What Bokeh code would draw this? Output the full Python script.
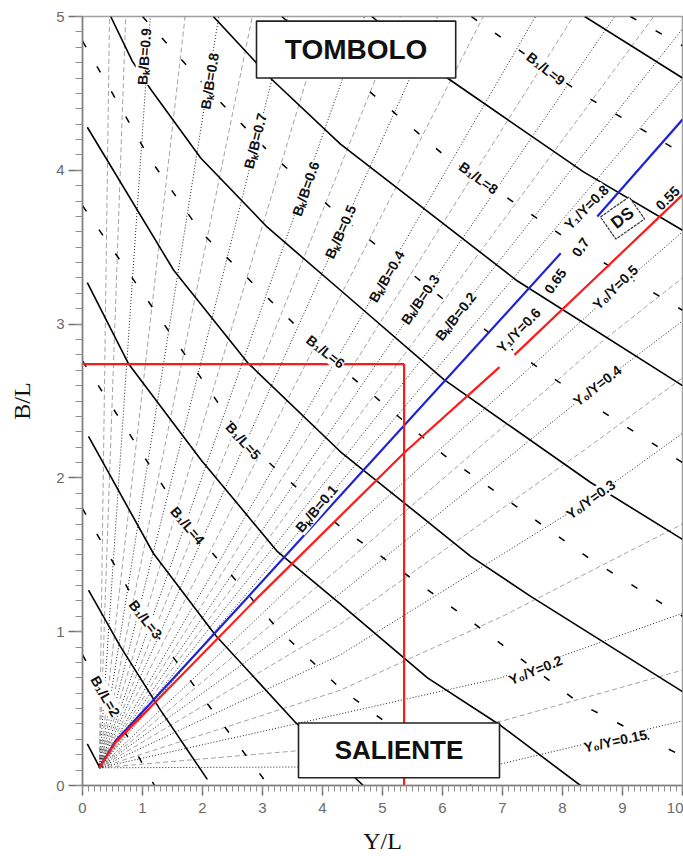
import math
from bokeh.plotting import figure
from bokeh.models import Label, SingleIntervalTicker
from bokeh.embed import file_html
from bokeh.resources import INLINE

# ---------------- data ----------------
focus_x, focus_y = 0.28, 0.115

# solid black curves
solid_x = [
    [0.08, 0.29],
    [0.10, 0.63, 1.30, 2.08],
    [0.10, 1.18, 2.22, 3.55, 4.68],
    [0.08, 0.77, 1.97, 3.25, 4.30, 5.75, 6.97, 8.30],
    [0.08, 1.52, 2.75, 4.30, 6.47, 7.47, 10.0],
    [0.47, 0.83, 1.13, 1.97, 3.08, 4.30, 6.02, 8.47, 10.0],
    [2.18, 2.92, 3.13, 4.30, 7.25, 10.0],
    [4.82, 6.08, 7.12, 8.35, 10.0],
    [8.37, 10.0],
]
solid_y = [
    [0.27, 0.115],
    [1.27, 0.905, 0.49, 0.04],
    [2.27, 1.51, 0.975, 0.41, 0.0],
    [3.27, 2.74, 2.12, 1.52, 1.18, 0.70, 0.39, 0.0],
    [4.28, 3.35, 2.75, 2.17, 1.49, 1.23, 0.61],
    [5.0, 4.71, 4.53, 4.08, 3.63, 3.22, 2.64, 1.97, 1.60],
    [5.0, 4.69, 4.60, 4.17, 3.28, 2.60],
    [5.0, 4.60, 4.32, 3.99, 3.61],
    [5.0, 4.60],
]

# B1/L curves (sparse dashes)
b1l_x = [
    [0.0, 0.38, 1.20],
    [0.0, 1.05, 1.97, 3.10],
    [0.0, 1.75, 3.25, 4.30, 6.47],
    [0.0, 2.68, 4.30, 6.47, 8.30, 10.0],
    [0.0, 0.47, 1.13, 1.97, 4.05, 6.02, 8.47, 10.0],
    [1.00, 2.18, 3.13, 4.30, 6.02, 7.25, 8.47, 10.0],
    [3.32, 6.08, 7.12, 8.35, 10.0],
    [6.48, 7.72, 8.35, 10.0],
    [9.13, 10.0],
]
b1l_y = [
    [0.85, 0.58, 0.0],
    [1.80, 1.08, 0.59, 0.0],
    [2.76, 1.70, 1.02, 0.63, 0.0],
    [3.77, 2.25, 1.68, 1.07, 0.53, 0.19],
    [4.84, 4.52, 4.07, 3.60, 2.80, 2.15, 1.47, 1.10],
    [5.0, 4.49, 4.11, 3.70, 3.16, 2.81, 2.48, 2.10],
    [5.0, 4.08, 3.81, 3.48, 3.09],
    [5.0, 4.66, 4.49, 4.11],
    [5.0, 4.81],
]
b1l_label_vals = ["2", "3", "4", "5", "6", "8", "9"]
b1l_label_x = [0.38, 1.05, 1.75, 2.68, 4.05, 6.60, 7.72]
b1l_label_y = [0.58, 1.08, 1.69, 2.24, 2.82, 3.95, 4.66]

# Bk/B radial dotted lines (end points, start at the focus)
bkb_vals = ["0.9", "0.8", "0.7", "0.6", "0.5", "0.4", "0.3", "0.2", "0.1"]
bkb_end_x = [1.13, 2.27, 3.42, 4.70, 5.92, 7.55, 8.87, 10.0, 10.0]
bkb_end_y = [5.0, 5.0, 5.0, 5.0, 5.0, 5.0, 5.0, 4.92, 4.60]
bkb_label_x = [1.03, 2.12, 2.88, 3.72, 4.30, 5.07, 5.63, 6.22, 3.90]
bkb_label_y = [4.74, 4.58, 4.19, 3.88, 3.60, 3.31, 3.16, 3.05, 1.80]

# intermediate grey radial dashed lines
mid_end_x = [0.45, 0.72, 1.71, 2.83, 4.05, 5.30, 6.68, 8.18, 9.52]
mid_end_y = [5.0, 5.0, 5.0, 5.0, 5.0, 5.0, 5.0, 5.0, 5.0]

# Y0/Y dotted curves
y0y_vals = ["0.15", "0.2", "0.3", "0.4", "0.5"]
y0y_x = [
    [0.28, 3.50, 6.97, 10.0],
    [0.28, 3.55, 6.97, 10.0],
    [0.28, 4.30, 8.47, 10.0],
    [0.28, 4.30, 8.58, 10.0],
    [0.28, 4.30, 8.88, 10.0],
]
y0y_y = [
    [0.115, 0.12, 0.14, 0.42],
    [0.115, 0.40, 0.70, 1.12],
    [0.115, 0.85, 1.86, 2.29],
    [0.115, 1.25, 2.60, 3.02],
    [0.115, 1.60, 3.22, 3.60],
]
y0y_label_x = [8.88, 7.55, 8.47, 8.58, 8.88]
y0y_label_y = [0.29, 0.75, 1.86, 2.60, 3.24]

# intermediate grey Y curves
ymid_x = [
    [0.28, 4.00, 7.00, 10.0],
    [0.28, 4.30, 7.00, 10.0],
    [0.28, 4.30, 8.50, 10.0],
    [0.28, 4.30, 8.70, 10.0],
]
ymid_y = [
    [0.115, 0.24, 0.42, 0.75],
    [0.115, 0.62, 1.10, 1.70],
    [0.115, 1.05, 2.22, 2.65],
    [0.115, 1.42, 2.90, 3.30],
]

# Y1/Y labels
y1y_texts = ["Y\u2081/Y=0.6", "0.65", "0.7", "Y\u2081/Y=0.8", "0.55"]
y1y_label_x = [7.27, 7.88, 8.30, 8.40, 9.75]
y1y_label_y = [2.96, 3.28, 3.50, 3.76, 3.82]

# blue and red limit lines
blue_x = [[0.28, 0.55, 1.11, 2.72, 5.36, 7.97], [8.58, 10.0]]
blue_y = [[0.115, 0.29, 0.525, 1.21, 2.34, 3.46], [3.70, 4.33]]
red_x = [[0.28, 0.55, 1.11, 2.89, 5.38, 6.95], [7.20, 8.52, 10.0]]
red_y = [[0.115, 0.28, 0.50, 1.21, 2.17, 2.72], [2.80, 3.29, 3.84]]

# design point (red L)
design_x = 5.36
design_y = 2.74

# region boxes
tombolo_box = (2.90, 6.22, 4.60, 4.97)
saliente_box = (3.60, 6.95, 0.05, 0.406)
ds_x, ds_y = 9.00, 3.69

# ---------------- figure ----------------
p = figure(width=683, height=856, x_range=(0, 10), y_range=(0, 5),
           output_backend="svg", toolbar_location=None,
           min_border_left=82, min_border_right=1, min_border_top=16,
           min_border_bottom=68)
p.grid.visible = False
p.outline_line_color = "#a0a0a0"
p.outline_line_width = 1.5
p.background_fill_color = "white"

for ax in (p.xaxis[0], p.yaxis[0]):
    ax.ticker = SingleIntervalTicker(interval=1, num_minor_ticks=10)
    ax.axis_line_color = "#808080"
    ax.axis_line_width = 1.5
    ax.major_tick_line_color = "#707070"
    ax.minor_tick_line_color = "#909090"
    ax.major_tick_line_width = 1.5
    ax.major_tick_in = 0
    ax.minor_tick_in = 0
    ax.major_label_text_font = "Liberation Sans"
    ax.major_label_text_font_size = "15px"
    ax.major_label_text_color = "#6a6a6a"
    ax.axis_label_text_font = "Liberation Serif"
    ax.axis_label_text_font_size = "24px"
    ax.axis_label_text_font_style = "normal"
    ax.axis_label_text_color = "#111111"

p.xaxis.axis_label = "Y/L"
p.yaxis.axis_label = "B/L"
p.xaxis.major_tick_out = 10
p.xaxis.minor_tick_out = 6
p.xaxis.major_label_standoff = 7
p.xaxis.axis_label_standoff = 12
p.yaxis.major_tick_out = 14
p.yaxis.minor_tick_out = 7
p.yaxis.major_label_standoff = 4
p.yaxis.axis_label_standoff = 18

# grey intermediate lines
p.multi_line([[focus_x, ex] for ex in mid_end_x],
             [[focus_y, ey] for ey in mid_end_y],
             line_color="#8a8a8a", line_width=0.8, line_dash="5 3")
p.multi_line(ymid_x, ymid_y, line_color="#8a8a8a", line_width=0.8, line_dash="5 3")

# dotted families
p.multi_line([[focus_x, ex] for ex in bkb_end_x],
             [[focus_y, ey] for ey in bkb_end_y],
             line_color="#222222", line_width=1, line_dash="1 2")
p.multi_line(y0y_x, y0y_y, line_color="#222222", line_width=1, line_dash="1 2")

# B1/L sparse dashed curves
p.multi_line(b1l_x, b1l_y, line_color="black", line_width=1.5, line_dash="7 22")

# solid curves
p.multi_line(solid_x, solid_y, line_color="black", line_width=1.6)

# blue / red lines
p.multi_line(blue_x, blue_y, line_color="#1e24d6", line_width=2.2)
p.multi_line(red_x, red_y, line_color="#ff1a1a", line_width=2.2)

# red design lines
p.line([0, design_x], [design_y, design_y], line_color="#ff1a1a", line_width=2.2)
p.line([design_x, design_x], [0, design_y], line_color="#ff1a1a", line_width=2.2)

# boxes
for (l, r, b, t) in (tombolo_box, saliente_box):
    p.quad(left=[l], right=[r], bottom=[b], top=[t], fill_color="white",
           line_color="#222222", line_width=1.6)
p.rect(x=[ds_x], y=[ds_y], width=[35], height=[27], width_units="screen",
       height_units="screen", angle=math.radians(35), fill_color="white",
       line_color="#333333", line_width=1.2, line_dash="3 1")


def add_label(x, y, text, angle_deg, size="14px", bg=True):
    p.add_layout(Label(x=x, y=y, text=text, angle=math.radians(angle_deg),
                       text_align="center", text_baseline="middle",
                       text_font="Liberation Sans", text_font_size=size,
                       text_font_style="bold", text_color="#111111",
                       background_fill_color="white" if bg else None))


b1l_angles = [-60, -52, -50, -48, -38, -36, -38]
for v, x, y, a in zip(b1l_label_vals, b1l_label_x, b1l_label_y, b1l_angles):
    add_label(x, y, "B\u2081/L=" + v, a)

bkb_angles = [86, 81, 76, 71, 66, 60, 56, 52, 50]
for v, x, y, a in zip(bkb_vals, bkb_label_x, bkb_label_y, bkb_angles):
    add_label(x, y, "B\u2096/B=" + v, a)

y0y_angles = [12, 22, 36, 38, 44]
for v, x, y, a in zip(y0y_vals, y0y_label_x, y0y_label_y, y0y_angles):
    add_label(x, y, "Y\u2080/Y=" + v, a)

y1y_angles = [46, 55, 55, 45, 45]
for t, x, y, a in zip(y1y_texts, y1y_label_x, y1y_label_y, y1y_angles):
    add_label(x, y, t, a)

add_label((tombolo_box[0] + tombolo_box[1]) / 2, (tombolo_box[2] + tombolo_box[3]) / 2,
          "TOMBOLO", 0, size="28px", bg=False)
add_label((saliente_box[0] + saliente_box[1]) / 2, (saliente_box[2] + saliente_box[3]) / 2,
          "SALIENTE", 0, size="26px", bg=False)
add_label(ds_x, ds_y, "DS", 38, size="17px", bg=False)

open("out.html", "w").write(file_html(p, INLINE))
